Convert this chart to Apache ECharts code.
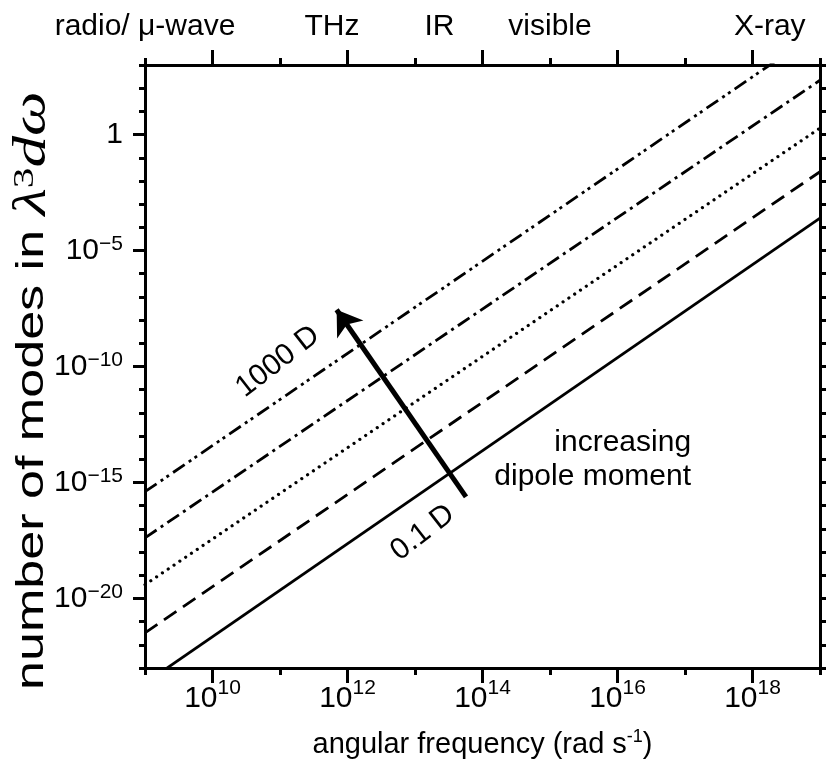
<!DOCTYPE html>
<html><head><meta charset="utf-8">
<script src="https://cdn.jsdelivr.net/npm/echarts@6.0.0/dist/echarts.min.js"></script>
<style>html,body{margin:0;padding:0;background:#fff}#c{width:826px;height:764px}</style>
</head><body><div id="c"></div>
<script>
// ---------------- data ----------------
// angular frequency (rad s^-1) at the two ends of every line
const omega = [1e9, 1e19];
// number of modes in lambda^3 d omega, per dipole moment
const modes01D   = [2.2e-24, 2.5e-4];  // 0.1 D   solid
const modes1D    = [3.3e-22, 2.5e-2];  // 1 D     dashed
const modes10D   = [3.9e-20, 1.9];     // 10 D    dotted
const modes100D  = [4.1e-18, 2.2e2];   // 100 D   dash-dot
const modes1000D = [4.0e-16, 3.0e4];   // 1000 D  dash-dot-dot

// axis ticks
const xTicks = [1e9, 1e10, 1e11, 1e12, 1e13, 1e14, 1e15, 1e16, 1e17, 1e18, 1e19];
const xLabelTicks = [1e10, 1e12, 1e14, 1e16, 1e18];
const yTicks = [1e3, 1e2, 1e1, 1, 1e-1, 1e-2, 1e-3, 1e-4, 1e-5, 1e-6, 1e-7, 1e-8, 1e-9, 1e-10,
  1e-11, 1e-12, 1e-13, 1e-14, 1e-15, 1e-16, 1e-17, 1e-18, 1e-19, 1e-20, 1e-21, 1e-22, 1e-23];
const yLabelTicks = [1, 1e-5, 1e-10, 1e-15, 1e-20];

// spectral bands on the top axis
const bandNames = ['radio/ μ-wave', 'THz', 'IR', 'visible', 'X-ray'];
const bandOmega = [1e9, 5.9e11, 2.3e13, 1.0e15, 1.8e18];

// arrow "increasing dipole moment" (from, to) in data units
const arrowFrom = [5.7e13, 2.4e-16];
const arrowTo   = [6.9e11, 2.8e-8];

// text annotations anchored in data units
const notes = [
  { text: '1000 D', at: [9.3e10, 1.6e-10], rotate: 38, align: 'center' },
  { text: '0.1 D', at: [1.3e13, 6.8e-18], rotate: 38, align: 'center' },
  { text: 'increasing\ndipole moment', at: [1.23e17, 9.3e-15], rotate: 0, align: 'right' }
];
const yTitle = '{t|number of modes in }{m|λ}{s|3}{m|dω}';
const xTitle = '{t|angular frequency (rad s}{s|-1}{t|)}';
// ---------------------------------------------------------------

const FONT = '"Liberation Sans", Helvetica, Arial, sans-serif';
const SERIF = '"Liberation Serif", "DejaVu Serif", serif';
const BLACK = '#000';

function expLabel(v) {
  const e = Math.round(Math.log10(v));
  if (e === 0) return '{b|1}';
  return '{b|10}{s|' + (e < 0 ? '\u2212' : '') + Math.abs(e) + '}';
}
function bandLabel(v) {
  const lv = Math.log10(v);
  let best = 0, d = Infinity;
  bandOmega.forEach((o, i) => { const dd = Math.abs(Math.log10(o) - lv); if (dd < d) { d = dd; best = i; } });
  return bandNames[best];
}

const commonX = { type: 'log', logBase: 10, min: omega[0], max: omega[1], gridIndex: 0, splitLine: { show: false }, minorTick: { show: false } };
const commonY = { type: 'log', logBase: 10, min: yTicks[yTicks.length - 1], max: yTicks[0], gridIndex: 0, splitLine: { show: false }, minorTick: { show: false } };
const axisLine = { show: true, onZero: false, lineStyle: { color: BLACK, width: 3 } };
const noLine = { show: false, onZero: false };

function lineSeries(name, data, type, cap, width) {
  return {
    name, type: 'line', xAxisIndex: 0, yAxisIndex: 0,
    data: omega.map((o, i) => [o, data[i]]),
    showSymbol: false, symbol: 'none', silent: true, clip: true, animation: false,
    lineStyle: { color: BLACK, width: width || 2.8, type, cap: cap || 'butt' }
  };
}

const option = {
  backgroundColor: '#fff',
  animation: false,
  grid: { left: 145, right: 6, top: 65, bottom: 96, containLabel: false, outerBoundsMode: 'none' },
  xAxis: [
    Object.assign({}, commonX, {
      position: 'bottom', axisLine,
      axisTick: { show: true, customValues: xTicks, length: 7, lineStyle: { color: BLACK, width: 3 } },
      axisLabel: { show: false }
    }),
    Object.assign({}, commonX, {
      position: 'bottom', axisLine: noLine,
      axisTick: { show: true, customValues: xLabelTicks, length: 15, lineStyle: { color: BLACK, width: 3 } },
      axisLabel: {
        show: true, customValues: xLabelTicks, margin: 10, formatter: expLabel,
        rich: {
          b: { fontSize: 30, fontFamily: FONT, color: BLACK, lineHeight: 42, verticalAlign: 'middle' },
          s: { fontSize: 21, fontFamily: FONT, color: BLACK, lineHeight: 21, verticalAlign: 'top' }
        }
      },
      name: xTitle,
      nameLocation: 'middle', nameGap: 60, nameMoveOverlap: false,
      nameTextStyle: {
        rich: {
          t: { fontSize: 29, fontFamily: FONT, color: BLACK, lineHeight: 34, verticalAlign: 'middle' },
          s: { fontSize: 18, fontFamily: FONT, color: BLACK, lineHeight: 18, verticalAlign: 'top' }
        }
      }
    }),
    Object.assign({}, commonX, {
      position: 'top', axisLine,
      axisTick: { show: true, customValues: xTicks, length: 7, lineStyle: { color: BLACK, width: 3 } },
      axisLabel: { show: true, customValues: bandOmega, margin: 23, formatter: bandLabel,
        fontSize: 30, fontFamily: FONT, color: BLACK, lineHeight: 30 }
    }),
    Object.assign({}, commonX, {
      position: 'top', axisLine: noLine,
      axisTick: { show: true, customValues: xLabelTicks, length: 15, lineStyle: { color: BLACK, width: 3 } },
      axisLabel: { show: false }
    })
  ],
  yAxis: [
    Object.assign({}, commonY, {
      position: 'left', axisLine,
      axisTick: { show: true, customValues: yTicks, length: 6, lineStyle: { color: BLACK, width: 3 } },
      axisLabel: { show: false }
    }),
    Object.assign({}, commonY, {
      position: 'left', axisLine: noLine,
      axisTick: { show: true, customValues: yLabelTicks, length: 12, lineStyle: { color: BLACK, width: 3 } },
      axisLabel: {
        show: true, customValues: yLabelTicks, margin: 22, formatter: expLabel,
        rich: {
          b: { fontSize: 30, fontFamily: FONT, color: BLACK, lineHeight: 34, verticalAlign: 'middle' },
          s: { fontSize: 21, fontFamily: FONT, color: BLACK, lineHeight: 21, verticalAlign: 'top' }
        }
      }
    }),
    Object.assign({}, commonY, {
      position: 'right', axisLine,
      axisTick: { show: true, customValues: yTicks, length: 6, lineStyle: { color: BLACK, width: 3 } },
      axisLabel: { show: false }
    })
  ],
  series: [
    lineSeries('0.1 D', modes01D, 'solid'),
    lineSeries('1 D', modes1D, [15, 8]),
    lineSeries('10 D', modes10D, [0.01, 7], 'round', 3.2),
    lineSeries('100 D', modes100D, [14, 5, 3, 5]),
    lineSeries('1000 D', modes1000D, [14, 5, 3, 4, 3, 5]),
    {
      name: 'arrow', type: 'line', xAxisIndex: 0, yAxisIndex: 0, data: [], silent: true, animation: false,
      markLine: {
        silent: true, animation: false, symbol: ['none', 'arrow'], symbolSize: 24,
        lineStyle: { color: BLACK, width: 5, type: 'solid' },
        label: { show: false }, emphasis: { disabled: true },
        data: [[{ coord: arrowFrom }, { coord: arrowTo }]]
      }
    }
  ]
};

const chart = echarts.init(document.getElementById('c'), null, { renderer: 'canvas' });
chart.setOption(option);

const graphics = notes.map(n => {
  const p = chart.convertToPixel({ gridIndex: 0 }, n.at);
  return {
    type: 'text', x: p[0], y: p[1], rotation: n.rotate * Math.PI / 180, silent: true,
    style: {
      text: n.text, font: '30px ' + FONT, fill: BLACK,
      align: n.align, textAlign: n.align, verticalAlign: 'middle', textVerticalAlign: 'middle', lineHeight: 34
    }
  };
});

// y-axis title: rotated, and stretched along its length as in the reference
const corner = chart.convertToPixel({ gridIndex: 0 }, [omega[0], yTicks[yTicks.length - 1]]);
graphics.push({
  type: 'text', x: corner[0] - 112, y: corner[1] + 22, rotation: Math.PI / 2,
  scaleX: 1.37, scaleY: 1, silent: true,
  style: {
    text: yTitle, align: 'left', textAlign: 'left', verticalAlign: 'middle', textVerticalAlign: 'middle',
    rich: {
      t: { fontSize: 38, fontFamily: FONT, fill: BLACK, color: BLACK, lineHeight: 46, verticalAlign: 'middle' },
      m: { fontSize: 46, fontFamily: SERIF, fontStyle: 'italic', fill: BLACK, color: BLACK, lineHeight: 46, verticalAlign: 'middle' },
      s: { fontSize: 30, fontFamily: SERIF, fill: BLACK, color: BLACK, lineHeight: 30, verticalAlign: 'top' }
    }
  }
});
chart.setOption({ graphic: graphics });
</script>
</body></html>
